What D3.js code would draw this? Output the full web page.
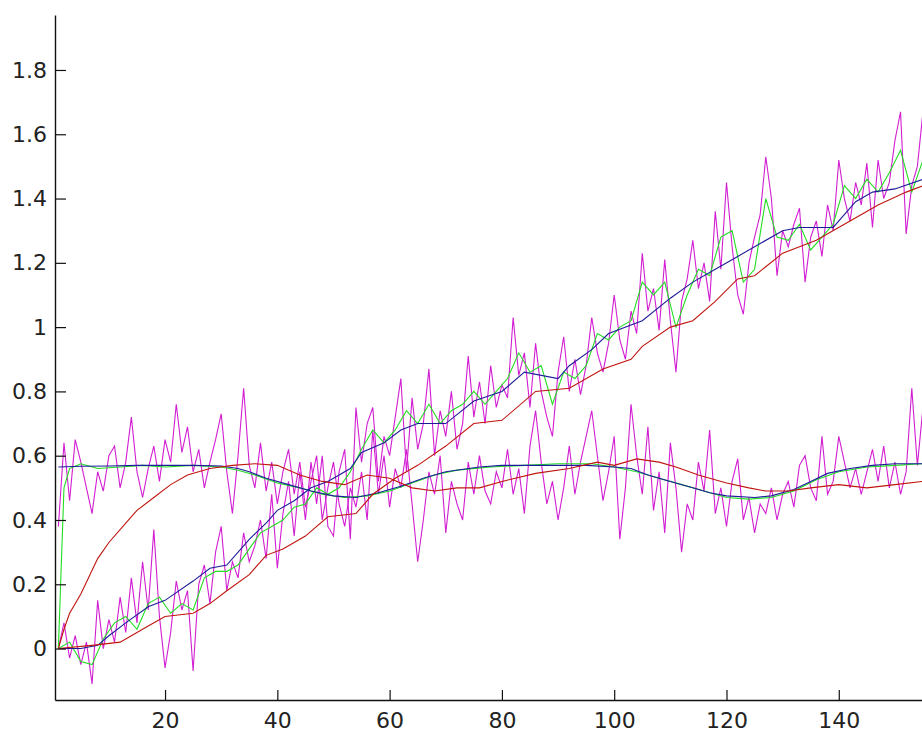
<!DOCTYPE html>
<html>
<head>
<meta charset="utf-8">
<script src="https://cdn.jsdelivr.net/npm/d3@7"></script>
<style>
  body { margin: 0; background: #fff; }
  svg { display: block; }
  .tick text { font-family: "DejaVu Sans", sans-serif; font-size: 22px; fill: #222; }
</style>
</head>
<body>
<div id="chart"></div>
<script>
var width = 922,
    height = 733;

// tick labels
var xTicks = [20, 40, 60, 80, 100, 120, 140];
var yTicks = [0, 0.2, 0.4, 0.6, 0.8, 1, 1.2, 1.4, 1.6, 1.8];

// rising signal: noisy measurement (one value per sample, x = 1..155)
var measA = [
  0.00, 0.08, -0.03, 0.04, -0.05, 0.02, -0.11, 0.15, 0.00, 0.09,
  0.02, 0.16, 0.05, 0.22, 0.08, 0.27, 0.12, 0.37, 0.10, -0.06,
  0.05, 0.21, 0.12, 0.18, -0.07, 0.20, 0.26, 0.14, 0.30, 0.38,
  0.18, 0.27, 0.22, 0.36, 0.27, 0.32, 0.40, 0.28, 0.48, 0.25,
  0.42, 0.52, 0.35, 0.55, 0.40, 0.58, 0.45, 0.60, 0.38, 0.35,
  0.55, 0.62, 0.34, 0.75, 0.58, 0.70, 0.75, 0.52, 0.66, 0.60,
  0.72, 0.84, 0.55, 0.78, 0.62, 0.70, 0.87, 0.60, 0.74, 0.66,
  0.80, 0.62, 0.70, 0.91, 0.72, 0.83, 0.70, 0.88, 0.75, 0.82,
  0.78, 1.03, 0.85, 0.92, 0.75, 0.95, 0.80, 0.72, 0.66, 0.86,
  0.97, 0.80, 0.90, 0.79, 0.88, 1.03, 0.92, 0.86, 0.95, 1.10,
  0.96, 0.90, 1.05, 0.98, 1.23, 1.05, 1.12, 0.99, 1.21, 1.02,
  0.86, 1.08, 1.15, 1.27, 1.12, 1.20, 1.08, 1.36, 1.18, 1.45,
  1.25, 1.10, 1.04, 1.20, 1.28, 1.35, 1.53, 1.40, 1.16, 1.30,
  1.25, 1.32, 1.37, 1.14, 1.28, 1.33, 1.22, 1.38, 1.30, 1.52,
  1.40, 1.33, 1.45, 1.38, 1.51, 1.31, 1.52, 1.40, 1.45, 1.58,
  1.67, 1.29, 1.44, 1.50, 1.67
];

// flat signal: noisy measurement (x = 1..155)
var measB = [
  0.38, 0.64, 0.46, 0.65, 0.58, 0.50, 0.42, 0.55, 0.49, 0.60,
  0.63, 0.50, 0.58, 0.72, 0.55, 0.47, 0.56, 0.63, 0.52, 0.65,
  0.58, 0.76, 0.61, 0.69, 0.55, 0.62, 0.50, 0.58, 0.65, 0.73,
  0.55, 0.42, 0.60, 0.81, 0.57, 0.50, 0.64, 0.49, 0.58, 0.45,
  0.55, 0.62, 0.48, 0.58, 0.44, 0.52, 0.60, 0.40, 0.50, 0.58,
  0.45, 0.38, 0.50, 0.44, 0.55, 0.40, 0.68, 0.48, 0.60, 0.44,
  0.56, 0.50, 0.62, 0.45, 0.27, 0.40, 0.55, 0.48, 0.60, 0.36,
  0.52, 0.45, 0.40, 0.58, 0.48, 0.60, 0.49, 0.45, 0.55, 0.50,
  0.62, 0.48, 0.56, 0.42, 0.63, 0.74, 0.58, 0.45, 0.52, 0.40,
  0.50, 0.63, 0.48, 0.58, 0.66, 0.74, 0.60, 0.46, 0.55, 0.66,
  0.34, 0.50, 0.76, 0.60, 0.48, 0.69, 0.43, 0.55, 0.36, 0.64,
  0.50, 0.30, 0.45, 0.40, 0.58, 0.49, 0.68, 0.42, 0.50, 0.38,
  0.52, 0.59, 0.40, 0.47, 0.36, 0.45, 0.42, 0.50, 0.40, 0.48,
  0.52, 0.44, 0.57, 0.60, 0.50, 0.46, 0.66, 0.48, 0.52, 0.66,
  0.58, 0.50, 0.56, 0.48, 0.55, 0.62, 0.52, 0.63, 0.50, 0.58,
  0.48, 0.55, 0.81, 0.57, 0.75
];

// rising signal: fast filter (every 2nd sample, x = 1, 3, ..., 155)
var fastA = [
  0.00, 0.02, -0.04, -0.05, 0.03, 0.08, 0.10, 0.06, 0.14, 0.16,
  0.11, 0.14, 0.12, 0.22, 0.24, 0.24, 0.26, 0.31, 0.36, 0.38,
  0.40, 0.44, 0.45, 0.50, 0.48, 0.50, 0.55, 0.62, 0.68, 0.64,
  0.68, 0.74, 0.70, 0.76, 0.70, 0.74, 0.76, 0.80, 0.76, 0.80,
  0.84, 0.92, 0.86, 0.88, 0.76, 0.86, 0.84, 0.88, 0.98, 0.96,
  1.00, 1.02, 1.14, 1.10, 1.14, 1.00, 1.10, 1.18, 1.16, 1.28,
  1.30, 1.14, 1.18, 1.40, 1.28, 1.27, 1.32, 1.24, 1.28, 1.32,
  1.44, 1.40, 1.46, 1.42, 1.48, 1.55, 1.42, 1.52
];

// rising signal: smooth estimate
var smoothAx = [1, 5, 8, 10, 13, 17, 20, 25, 28, 31, 35, 38, 40, 43, 46, 49, 53, 55, 59, 62, 65,
  70, 75, 80, 84, 90, 92, 96, 99, 105, 110, 114, 118, 122, 126, 130, 133, 139, 143, 146, 150, 155];
var smoothA = [0, 0, 0.01, 0.04, 0.08, 0.13, 0.15, 0.21, 0.25, 0.26, 0.34, 0.39, 0.43, 0.46, 0.50, 0.52, 0.56, 0.61, 0.64, 0.68, 0.70,
  0.70, 0.77, 0.80, 0.86, 0.84, 0.88, 0.93, 0.98, 1.02, 1.09, 1.14, 1.18, 1.22, 1.26, 1.30, 1.31, 1.31, 1.39, 1.42, 1.43, 1.46];

// rising signal: slow (lagging) filter
var slowAx = [1, 7, 12, 15, 17, 20, 25, 28, 31, 35, 38, 41, 45, 49, 54, 57, 61, 65, 70, 75,
  80, 86, 92, 98, 103, 105, 110, 114, 118, 122, 125, 130, 136, 142, 147, 152, 155];
var slowA = [0, 0.01, 0.02, 0.05, 0.07, 0.10, 0.11, 0.14, 0.18, 0.23, 0.29, 0.31, 0.35, 0.41, 0.42, 0.48, 0.53, 0.57, 0.63, 0.70,
  0.71, 0.80, 0.81, 0.87, 0.90, 0.94, 1.00, 1.02, 1.08, 1.15, 1.16, 1.23, 1.27, 1.33, 1.38, 1.42, 1.44];

// flat signal: fast filter
var fastBx = [1, 2, 3, 5, 8, 12, 16, 20, 25, 30, 33, 36, 40, 44, 48, 52, 56, 60, 64, 68,
  72, 78, 84, 90, 96, 100, 104, 108, 112, 116, 120, 124, 128, 132, 136, 140, 145, 150, 155];
var fastB = [0, 0.50, 0.56, 0.575, 0.56, 0.565, 0.57, 0.565, 0.57, 0.565, 0.555, 0.54, 0.515, 0.50, 0.48, 0.47, 0.475, 0.49, 0.515, 0.54,
  0.555, 0.565, 0.57, 0.575, 0.575, 0.565, 0.55, 0.53, 0.51, 0.49, 0.47, 0.465, 0.47, 0.49, 0.525, 0.55, 0.565, 0.57, 0.575];

// flat signal: smooth estimate
var smoothBx = [1, 5, 10, 15, 20, 25, 30, 33, 35, 38, 42, 46, 50, 54, 58, 62, 66, 70, 76, 80,
  85, 90, 95, 100, 103, 106, 110, 114, 117, 120, 125, 128, 132, 135, 138, 142, 146, 150, 155];
var smoothB = [0.565, 0.567, 0.568, 0.57, 0.57, 0.57, 0.568, 0.56, 0.55, 0.53, 0.51, 0.49, 0.475, 0.47, 0.485, 0.505, 0.53, 0.55, 0.565, 0.57,
  0.57, 0.57, 0.57, 0.565, 0.56, 0.54, 0.52, 0.50, 0.485, 0.475, 0.47, 0.475, 0.495, 0.52, 0.545, 0.56, 0.57, 0.575, 0.575];

// flat signal: slow (lagging) filter
var slowBx = [1, 2, 3, 5, 8, 10, 13, 15, 18, 21, 24, 28, 32, 36, 40, 44, 48, 52, 56, 60, 64,
  68, 72, 76, 80, 86, 92, 97, 100, 104, 108, 111, 115, 120, 124, 127, 131, 135, 140, 145, 150, 155];
var slowB = [0, 0.06, 0.11, 0.17, 0.28, 0.33, 0.39, 0.43, 0.47, 0.51, 0.54, 0.56, 0.57, 0.575, 0.57, 0.54, 0.52, 0.51, 0.54, 0.53, 0.50,
  0.49, 0.50, 0.50, 0.52, 0.545, 0.56, 0.58, 0.57, 0.59, 0.58, 0.565, 0.54, 0.515, 0.50, 0.49, 0.49, 0.50, 0.51, 0.50, 0.51, 0.52];

var plotLeft = 55, plotTop = 15, plotBottom = 700;

var x = d3.scaleLinear()
    .domain([0.4, 155])
    .range([plotLeft, width + 1]);

var y = d3.scaleLinear()
    .domain([-0.16, 1.971])
    .range([plotBottom, plotTop]);

var svg = d3.select("#chart").append("svg")
    .attr("width", width)
    .attr("height", height);

svg.append("defs").append("clipPath")
    .attr("id", "plotclip")
  .append("rect")
    .attr("x", plotLeft)
    .attr("y", plotTop)
    .attr("width", width - plotLeft)
    .attr("height", plotBottom - plotTop);

var g = svg.append("g").attr("clip-path", "url(#plotclip)");

function pairs(xs, ys) {
    return ys.map(function(v, i) { return [xs[i], v]; });
}
var every1 = d3.range(1, measA.length + 1);
var every2 = fastA.map(function(d, i) { return 1 + i * 2; });

var line = d3.line()
    .x(function(d) { return x(d[0]); })
    .y(function(d) { return y(d[1]); });

var series = [
    { data: pairs(every1, measA), color: "#d21ed2" },
    { data: pairs(every1, measB), color: "#d21ed2" },
    { data: pairs(every2, fastA), color: "#22dd22" },
    { data: pairs(fastBx, fastB), color: "#22dd22" },
    { data: pairs(smoothAx, smoothA), color: "#1c1c9a" },
    { data: pairs(smoothBx, smoothB), color: "#1c1c9a" },
    { data: pairs(slowAx, slowA), color: "#c0140e" },
    { data: pairs(slowBx, slowB), color: "#c0140e" }
];

g.selectAll("path.series")
    .data(series).enter()
    .append("path")
    .attr("class", "series")
    .attr("d", function(d) { return line(d.data); })
    .attr("fill", "none")
    .attr("stroke", function(d) { return d.color; })
    .attr("stroke-width", 1.1);

// axes, MATLAB style: ticks point inward
var xAxis = d3.axisBottom(x)
    .tickValues(xTicks)
    .tickSizeInner(-10)
    .tickSizeOuter(0)
    .tickPadding(12)
    .tickFormat(d3.format("d"));

var yAxis = d3.axisLeft(y)
    .tickValues(yTicks)
    .tickSizeInner(-11)
    .tickSizeOuter(0)
    .tickPadding(8)
    .tickFormat(function(d) { return String(+d.toFixed(1)); });

var gx = svg.append("g")
    .attr("transform", "translate(0," + plotBottom + ")")
    .call(xAxis);

var gy = svg.append("g")
    .attr("transform", "translate(" + plotLeft + ",0)")
    .call(yAxis);

[gx, gy].forEach(function(a) {
    a.select(".domain").attr("stroke", "#111").attr("stroke-width", 1.4);
    a.selectAll(".tick line").attr("stroke", "#111").attr("stroke-width", 1.2);
    a.attr("font-family", null).attr("font-size", null);
});
</script>
</body>
</html>
